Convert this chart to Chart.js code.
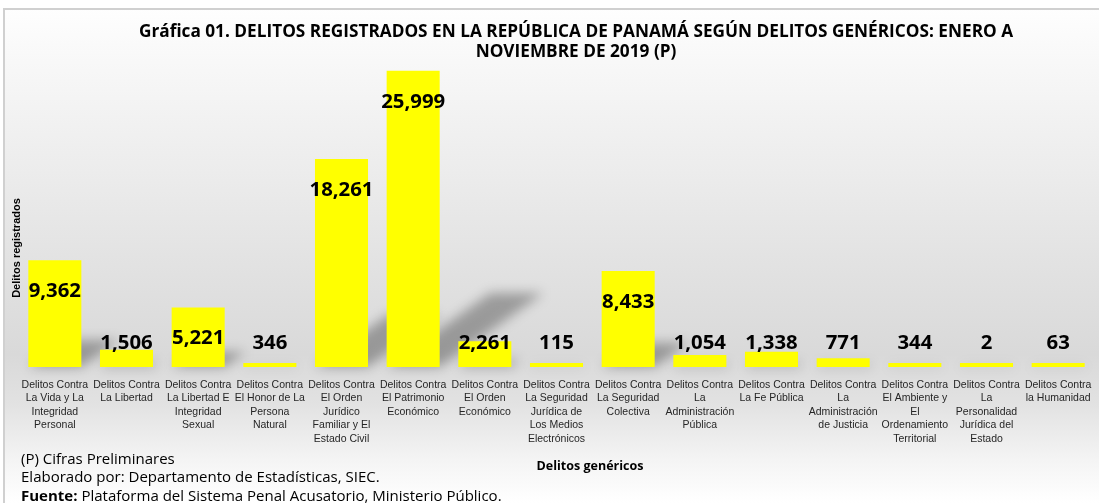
<!DOCTYPE html>
<html>
<head>
<meta charset="utf-8">
<script src="https://cdn.jsdelivr.net/npm/chart.js@4.4.1/dist/chart.umd.min.js"></script>
<style>
  html, body { margin: 0; padding: 0; background: #ffffff; }
  #wrap { width: 1099px; height: 503px; position: relative; }
</style>
</head>
<body>
<div id="wrap"><canvas id="delitosChart"></canvas></div>
<script>
/* ================= DATA ================= */

const categories = [
    ["Delitos Contra", "La Vida y La", "Integridad", "Personal"],
    ["Delitos Contra", "La Libertad"],
    ["Delitos Contra", "La Libertad E", "Integridad", "Sexual"],
    ["Delitos Contra", "El Honor de La", "Persona", "Natural"],
    ["Delitos Contra", "El Orden", "Jurídico", "Familiar y El", "Estado Civil"],
    ["Delitos Contra", "El Patrimonio", "Económico"],
    ["Delitos Contra", "El Orden", "Económico"],
    ["Delitos Contra", "La Seguridad", "Jurídica de", "Los Medios", "Electrónicos"],
    ["Delitos Contra", "La Seguridad", "Colectiva"],
    ["Delitos Contra", "La", "Administración", "Pública"],
    ["Delitos Contra", "La Fe Pública"],
    ["Delitos Contra", "La", "Administración", "de Justicia"],
    ["Delitos Contra", "El Ambiente y", "El", "Ordenamiento", "Territorial"],
    ["Delitos Contra", "La", "Personalidad", "Jurídica del", "Estado"],
    ["Delitos Contra", "la Humanidad"]
];

const delitos = [9362, 1506, 5221, 346, 18261, 25999, 2261, 115, 8433, 1054, 1338, 771, 344, 2, 63];

const titleLines = [
    "Gráfica 01. DELITOS REGISTRADOS EN LA REPÚBLICA DE PANAMÁ SEGÚN DELITOS GENÉRICOS: ENERO A",
    "NOVIEMBRE DE 2019 (P)"
];
const yAxisTitle = "Delitos registrados";
const xAxisTitle = "Delitos genéricos";
const notePreliminar = "(P) Cifras Preliminares";
const noteElaborado = "Elaborado por: Departamento de Estadísticas, SIEC.";
const noteFuenteLabel = "Fuente:";
const noteFuenteText = " Plataforma del Sistema Penal Acusatorio, Ministerio Público.";

/* ================= HELPERS ================= */

// font size (px) that makes `text` span `target` px
function fitSize(ctx, text, weight, family, target) {
    ctx.font = `${weight} 100px ${family}`;
    return 100 * target / ctx.measureText(text).width;
}

/* ================= PLUGINS ================= */

const backgroundPlugin = {
    id: "chartBackground",
    beforeDraw(chart) {
        const ctx = chart.ctx;
        const w = chart.width, h = chart.height;
        ctx.save();
        ctx.fillStyle = "#ffffff";
        ctx.fillRect(0, 0, w, h);

        const grad = ctx.createLinearGradient(0, 8, 0, h);
        grad.addColorStop(0, "#fefefe");
        grad.addColorStop(0.2, "#f3f3f3");
        grad.addColorStop(0.5, "#e3e3e3");
        grad.addColorStop(0.7, "#d9d9d9");
        grad.addColorStop(0.8, "#e2e2e2");
        grad.addColorStop(0.92, "#f5f5f5");
        grad.addColorStop(1, "#ffffff");
        ctx.fillStyle = grad;
        ctx.fillRect(3, 8, w - 3, h - 8);

        ctx.strokeStyle = "#d0d0d0";
        ctx.lineWidth = 2;
        ctx.beginPath();
        ctx.moveTo(4, h);
        ctx.lineTo(4, 9);
        ctx.lineTo(w, 9);
        ctx.stroke();
        ctx.restore();
    }
};

const barShadowPlugin = {
    id: "barShadow",
    beforeDatasetsDraw(chart) {
        const ctx = chart.ctx;
        const meta = chart.getDatasetMeta(0);
        ctx.save();
        ctx.filter = "blur(6px)";
        ctx.fillStyle = "rgba(0,0,0,0.30)";
        meta.data.forEach(bar => {
            const { x, y, base, width } = bar.getProps(["x", "y", "base", "width"], true);
            const hgt = base - y;
            const dx = hgt * 0.35;
            const rise = hgt * 0.25;
            ctx.beginPath();
            ctx.moveTo(x - width / 2, base);
            ctx.lineTo(x + width / 2, base);
            ctx.lineTo(x + width / 2 + dx, base - rise);
            ctx.lineTo(x - width / 2 + dx, base - rise);
            ctx.closePath();
            ctx.fill();
        });
        ctx.restore();
    }
};

const valueLabelPlugin = {
    id: "valueLabels",
    afterDatasetsDraw(chart) {
        const ctx = chart.ctx;
        const meta = chart.getDatasetMeta(0);
        ctx.save();
        const size = fitSize(ctx, "25,999", "bold", "'Open Sans'", 64);
        ctx.font = `bold ${size}px 'Open Sans'`;
        ctx.fillStyle = "#000000";
        ctx.textAlign = "center";
        ctx.textBaseline = "middle";
        meta.data.forEach((bar, i) => {
            const { x, y } = bar.getProps(["x", "y"], true);
            const ly = Math.min(y + 31, 343);
            ctx.fillText(delitos[i].toLocaleString("en-US"), x, ly);
        });
        ctx.restore();
    }
};

const textPlugin = {
    id: "chartTexts",
    afterDraw(chart) {
        const ctx = chart.ctx;
        ctx.save();
        ctx.fillStyle = "#000000";
        ctx.textBaseline = "middle";

        // title
        ctx.textAlign = "center";
        const tSize = fitSize(ctx, titleLines[0], "bold", "'Open Sans'", 875);
        ctx.font = `bold ${tSize}px 'Open Sans'`;
        ctx.fillText(titleLines[0], 576, 32);
        ctx.fillText(titleLines[1], 576, 52);

        // axis titles
        const xSize = fitSize(ctx, xAxisTitle, "bold", "'Open Sans'", 107);
        ctx.font = `bold ${xSize}px 'Open Sans'`;
        ctx.fillText(xAxisTitle, 590, 466);

        ctx.save();
        ctx.translate(17, 248);
        ctx.rotate(-Math.PI / 2);
        ctx.font = "bold 11px 'Liberation Sans'";
        ctx.fillText(yAxisTitle, 0, 0);
        ctx.restore();

        // notes
        ctx.textAlign = "left";
        const nSize = fitSize(ctx, noteElaborado, "normal", "'Open Sans'", 359);
        ctx.font = `${nSize}px 'Open Sans'`;
        ctx.fillText(notePreliminar, 21, 460);
        ctx.fillText(noteElaborado, 21, 478);
        ctx.font = `bold ${nSize}px 'Open Sans'`;
        ctx.fillText(noteFuenteLabel, 21, 497);
        const fw = ctx.measureText(noteFuenteLabel).width;
        ctx.font = `${nSize}px 'Open Sans'`;
        ctx.fillText(noteFuenteText, 21 + fw, 497);
        ctx.restore();
    }
};

/* ================= CHART ================= */

const delitosChart = new Chart(document.getElementById("delitosChart"), {
    type: "bar",
    data: {
        labels: categories,
        datasets: [{
            label: "Delitos registrados",
            data: delitos,
            backgroundColor: "#ffff00",
            borderWidth: 0,
            barPercentage: 0.74,
            categoryPercentage: 1,
            minBarLength: 4
        }]
    },
    options: {
        responsive: true,
        maintainAspectRatio: false,
        animation: false,
        layout: { padding: { left: 19, right: 5, top: 48, bottom: 46.3 } },
        plugins: {
            legend: { display: false },
            tooltip: { enabled: false },
            title: { display: false }
        },
        scales: {
            x: {
                grid: { display: false, drawTicks: false },
                border: { display: false },
                // last label fits inside its category, no extra room needed
                afterFit: scale => { scale.paddingRight = 0; },
                ticks: {
                    color: "#262626",
                    padding: 11,
                    maxRotation: 0,
                    minRotation: 0,
                    autoSkip: false,
                    font: { family: "'Liberation Sans'", size: 10.5, lineHeight: 1.29 }
                }
            },
            y: {
                display: false,
                min: 0,
                max: 28000
            }
        }
    },
    plugins: [backgroundPlugin, barShadowPlugin, valueLabelPlugin, textPlugin]
});
</script>
</body>
</html>
